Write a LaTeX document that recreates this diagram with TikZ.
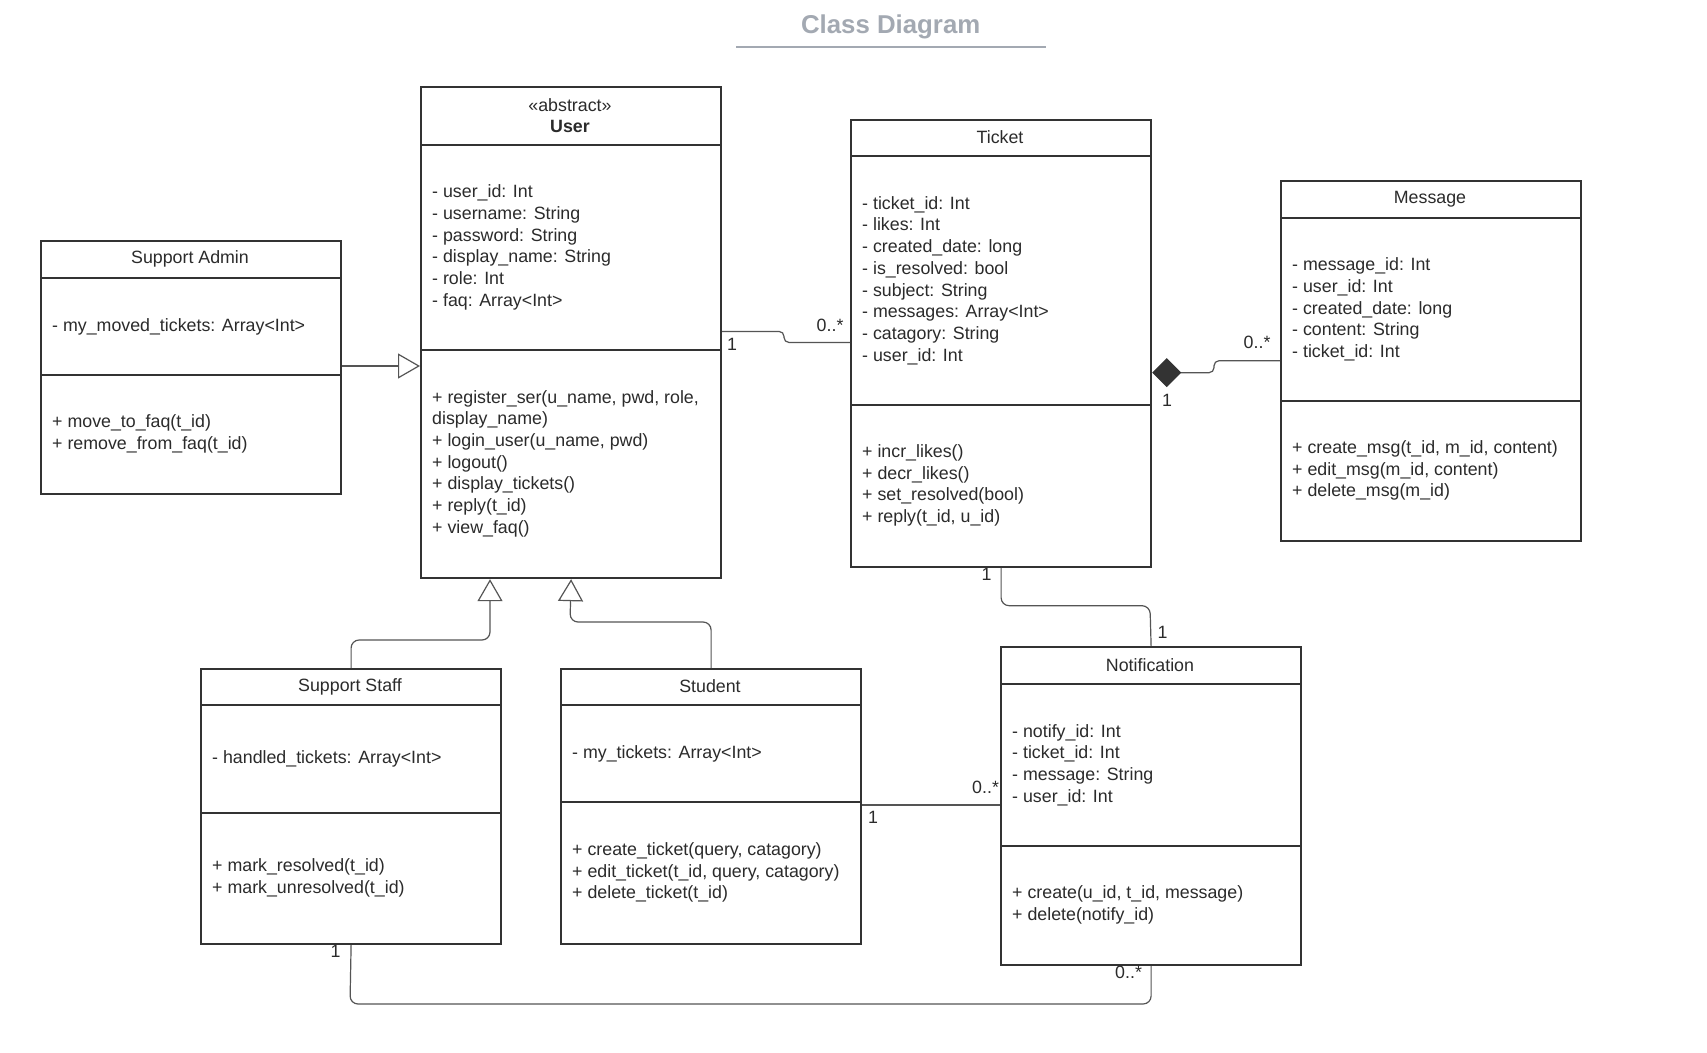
\documentclass[tikz,border=0pt]{standalone}
\usepackage{fontspec}
\setmainfont{Liberation Sans}
\usetikzlibrary{arrows.meta}
\definecolor{linec}{HTML}{333333}
\definecolor{connc}{HTML}{555555}
\definecolor{textc}{HTML}{2B2B2B}
\definecolor{titlec}{HTML}{A3A9B2}
\newcommand\bodyfont{\fontsize{17.8}{21.7}\selectfont}
\newcommand\classbox[9]{%
  \pgfmathsetmacro\boxh{#6-#3}%
  \node[cls, minimum height=\boxh pt] (#1) at (#2,#3) {};
  \draw[cline] (#2,#4) -- ++(300,0);
  \draw[cline] (#2,#5) -- ++(300,0);
  \node[hdr] (#1-h) at ({#2+150},{(#3+#4)/2}) {#7};
  \node[txt] (#1-a) at ({#2+12},{(#4+#5)/2}) {#8};
  \node[txt] (#1-m) at ({#2+12},{(#5+#6)/2}) {#9};
}
\begin{document}
\begin{tikzpicture}[x=1pt,y=-1pt,
  cls/.style={draw=linec, line width=2.2, minimum width=300pt, anchor=north west, inner sep=0pt},
  cline/.style={draw=linec, line width=2.2},
  hdr/.style={font=\bodyfont, text=textc, align=center, inner sep=0pt},
  txt/.style={font=\bodyfont, text=textc, align=left, anchor=west, inner sep=0pt},
  conn/.style={draw=connc, line width=1.2, rounded corners=8pt},
  gen/.style={-{Triangle[open, length=22pt, width=25pt, fill=white]}},
  lbl/.style={font=\bodyfont, text=textc, anchor=base west, inner sep=0pt}]
\fill[white] (0,0) rectangle (1707,1052);
\useasboundingbox (0,0) rectangle (1707,1052);

% title
\node[font=\fontsize{25.8}{30}\selectfont\bfseries, text=titlec, anchor=base, inner sep=0pt] (title) at (890.7,33.5) {Class Diagram};
\coordinate (ulA) at (736,47);
\coordinate (ulB) at (1046,47);
\draw[titlec, line width=2.5] (ulA) -- (ulB);

% classes
\classbox{admin}{40}{240}{278}{375}{493}{Support Admin}
  {- my\_moved\_tickets: Array<Int>}
  {+ move\_to\_faq(t\_id)\\+ remove\_from\_faq(t\_id)}
\classbox{user}{420}{86}{145}{350}{577}{«abstract»\\\textbf{User}}
  {- user\_id: Int\\- username: String\\- password: String\\- display\_name: String\\- role: Int\\- faq: Array<Int>}
  {+ register\_ser(u\_name, pwd, role,\\display\_name)\\+ login\_user(u\_name, pwd)\\+ logout()\\+ display\_tickets()\\+ reply(t\_id)\\+ view\_faq()}
\classbox{ticket}{850}{119}{156}{405}{566}{Ticket}
  {- ticket\_id: Int\\- likes: Int\\- created\_date: long\\- is\_resolved: bool\\- subject: String\\- messages: Array<Int>\\- catagory: String\\- user\_id: Int}
  {+ incr\_likes()\\+ decr\_likes()\\+ set\_resolved(bool)\\+ reply(t\_id, u\_id)}
\classbox{message}{1280}{180}{218}{401}{540}{Message}
  {- message\_id: Int\\- user\_id: Int\\- created\_date: long\\- content: String\\- ticket\_id: Int}
  {+ create\_msg(t\_id, m\_id, content)\\+ edit\_msg(m\_id, content)\\+ delete\_msg(m\_id)}
\classbox{staff}{200}{668}{705}{813}{943}{Support Staff}
  {- handled\_tickets: Array<Int>}
  {+ mark\_resolved(t\_id)\\+ mark\_unresolved(t\_id)}
\classbox{student}{560}{668}{705}{802}{943}{Student}
  {- my\_tickets: Array<Int>}
  {+ create\_ticket(query, catagory)\\+ edit\_ticket(t\_id, query, catagory)\\+ delete\_ticket(t\_id)}
\classbox{notif}{1000}{646}{684}{846}{964}{Notification}
  {- notify\_id: Int\\- ticket\_id: Int\\- message: String\\- user\_id: Int}
  {+ create(u\_id, t\_id, message)\\+ delete(notify\_id)}

% generalizations
\draw[conn, gen] (admin.east |- 0,366) -- (user.west |- 0,366);
\draw[conn, gen] (staff.north) |- (490,640) -- (user.south -| 490,0);
\draw[conn, gen] (student.north) |- (570,622) -- (user.south);

% associations
\draw[conn, rounded corners=5pt] (user.east |- 0,331.4) -- (784,331.4) -- (784,342.5) -- (ticket.west |- 0,342.5);
\draw[conn, rounded corners=5pt, {Diamond[length=29pt, width=29pt, color=linec]}-] (ticket.east |- 0,372.7) -- (1214,372.7) -- (1214,360.7) -- (message.west |- 0,360.7);
\draw[conn] (ticket.south) |- (1150,605.7) -- (notif.north);
\draw[conn] (student.east |- 0,805) -- (notif.west |- 0,805);
\draw[conn] (notif.south) |- (350,1004) -- (staff.south);

% multiplicities
\node[lbl] (m1) at (727,350) {1};
\node[lbl] (m2) at (816.5,331.4) {0..*};
\node[lbl] (m3) at (1162,406) {1};
\node[lbl] (m4) at (1243.5,348.3) {0..*};
\node[lbl] (m5) at (981.3,580.7) {1};
\node[lbl] (m6) at (1157.3,638.3) {1};
\node[lbl] (m7) at (972,793.3) {0..*};
\node[lbl] (m8) at (868,823.3) {1};
\node[lbl] (m9) at (1115,978.3) {0..*};
\node[lbl] (m10) at (330.5,957.3) {1};
\end{tikzpicture}
\end{document}
